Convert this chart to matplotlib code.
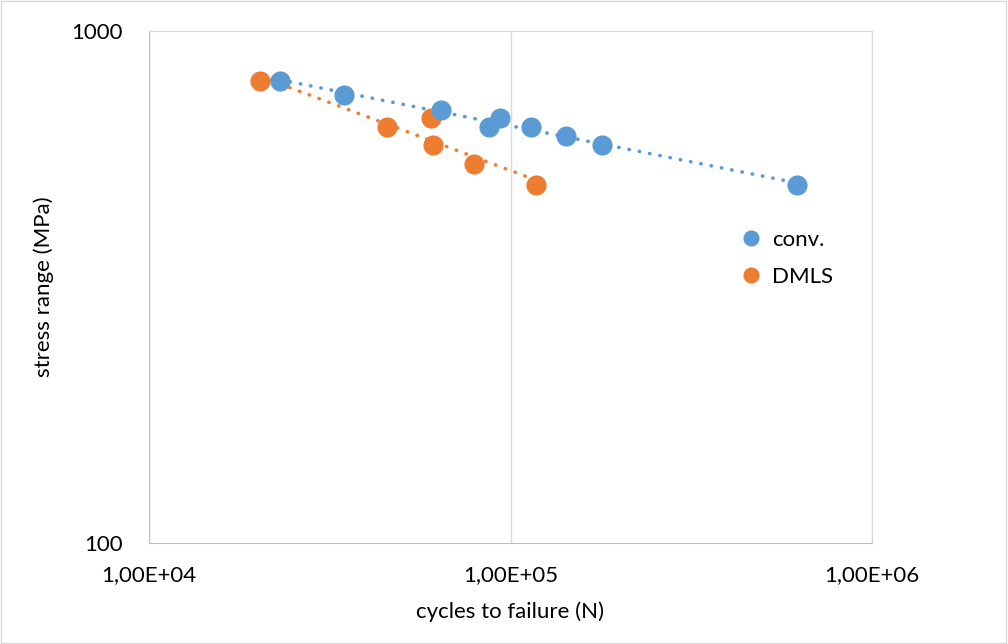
import numpy as np
import matplotlib.pyplot as plt
from matplotlib.ticker import FixedLocator, FixedFormatter, NullLocator

plt.rcParams['font.family'] = ['Lato', 'DejaVu Sans']

# conventional specimens
conv_n = [23000, 34700, 64200, 87400, 93500, 114000, 142000, 179000, 621000]
conv_s = [800, 750, 700, 650, 675, 650, 625, 600, 500]
# DMLS specimens
dmls_n = [20300, 45500, 60300, 60900, 79300, 117600]
dmls_s = [800, 650, 675, 600, 550, 500]

x_ticks = [1e4, 1e5, 1e6]
x_labels = ["1,00E+04", "1,00E+05", "1,00E+06"]
y_ticks = [100, 1000]
y_labels = ["100", "1000"]

BLUE = '#5B9BD5'
ORANGE = '#ED7D31'
GRID = '#D9D9D9'


def power_fit(x, y):
    # Excel-style power trendline: straight line in log-log space
    lx, ly = np.log10(x), np.log10(y)
    b, a = np.polyfit(lx, ly, 1)
    xs = np.logspace(lx.min(), lx.max(), 50)
    return xs, 10 ** (a + b * np.log10(xs))


fig = plt.figure(figsize=(10.08, 6.44), dpi=100)
ax = fig.add_axes([149 / 1008, 1 - 543 / 644, (872 - 149) / 1008, (543 - 31) / 644])

# outer chart border
fig.patches.append(plt.Rectangle((0.001, 0.001), 0.997, 0.997, transform=fig.transFigure,
                                 fill=False, edgecolor=GRID, linewidth=1))

ax.set_xscale('log')
ax.set_yscale('log')
ax.set_xlim(1e4, 1e6)
ax.set_ylim(100, 1000)

for xs, ys, c in [(conv_n, conv_s, BLUE), (dmls_n, dmls_s, ORANGE)]:
    fx, fy = power_fit(np.array(xs), np.array(ys))
    ax.plot(fx, fy, color=c, linewidth=2.6, linestyle=(0, (0.1, 2.8)),
            dash_capstyle='round', zorder=2)

ax.plot(conv_n, conv_s, 'o', color=BLUE, markersize=14.5, markeredgewidth=0,
        label='conv.', zorder=4)
ax.plot(dmls_n, dmls_s, 'o', color=ORANGE, markersize=14.5, markeredgewidth=0,
        label='DMLS', zorder=3)

ax.xaxis.set_major_locator(FixedLocator(x_ticks))
ax.xaxis.set_major_formatter(FixedFormatter(x_labels))
ax.xaxis.set_minor_locator(NullLocator())
ax.yaxis.set_major_locator(FixedLocator(y_ticks))
ax.yaxis.set_major_formatter(FixedFormatter(y_labels))
ax.yaxis.set_minor_locator(NullLocator())
ax.tick_params(length=0, labelsize=16, colors='#000000')
ax.tick_params(axis='x', pad=16)
ax.tick_params(axis='y', pad=19)

ax.grid(True, axis='x', color=GRID, linewidth=1)
for side in ['top', 'right', 'left', 'bottom']:
    ax.spines[side].set_color(GRID)
ax.spines['bottom'].set_color('#BFBFBF')
ax.spines['left'].set_color('#BFBFBF')

ax.set_xlabel('cycles to failure (N)', fontsize=16, labelpad=12)
ax.set_ylabel('stress range (MPa)', fontsize=16, labelpad=12)

ax.legend(loc='center left', bbox_to_anchor=(0.79, 0.556), frameon=False, fontsize=16,
          markerscale=0.8, handletextpad=0.45, labelspacing=0.75, handlelength=1.0)

fig.savefig('out.png', dpi=100)
